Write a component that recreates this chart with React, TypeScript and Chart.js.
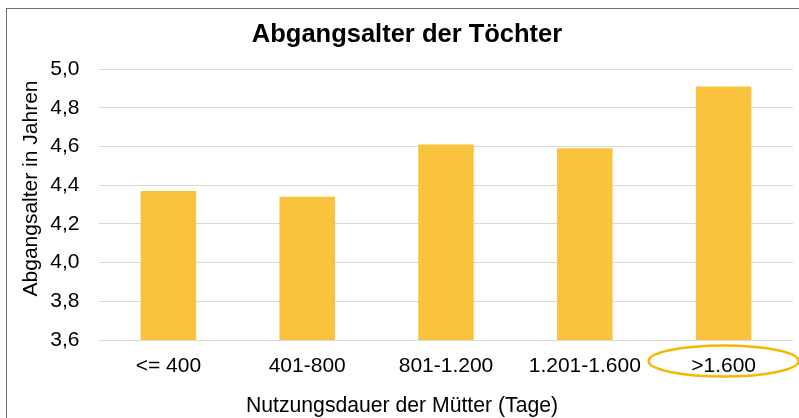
import React, { useEffect, useRef } from "react";
import { Chart, registerables } from "chart.js";

Chart.register(...registerables);

const categories = ["<= 400", "401-800", "801-1.200", "1.201-1.600", ">1.600"];
const values = [4.37, 4.34, 4.61, 4.59, 4.91];
const yMin = 3.6;
const yMax = 5.0;
const yStep = 0.2;
const chartTitle = "Abgangsalter der Töchter";
const xTitle = "Nutzungsdauer der Mütter (Tage)";
const yTitle = "Abgangsalter in Jahren";
const highlightIndex = 4;

const FONT = "'Liberation Sans', Arial, sans-serif";

const extrasPlugin = {
  id: "extras",
  afterDraw(chart: any) {
    const { ctx, chartArea, scales } = chart;
    // y-axis title
    ctx.save();
    ctx.translate(chartArea.left - 68, (chartArea.top + chartArea.bottom) / 2 - 16);
    ctx.rotate(-Math.PI / 2);
    ctx.fillStyle = "#000";
    ctx.font = `21px ${FONT}`;
    ctx.textAlign = "center";
    ctx.textBaseline = "middle";
    ctx.fillText(yTitle, 0, 0);
    ctx.restore();

    // x-axis title
    ctx.save();
    ctx.fillStyle = "#000";
    ctx.font = `21.2px ${FONT}`;
    ctx.textAlign = "center";
    ctx.textBaseline = "middle";
    ctx.fillText(xTitle, (chartArea.left + chartArea.right) / 2 - 44, chartArea.bottom + 66);
    ctx.restore();

    // highlight ellipse around last category label
    const cx = scales.x.getPixelForValue(highlightIndex);
    const cy = chartArea.bottom + 21;
    ctx.save();
    ctx.beginPath();
    ctx.ellipse(cx, cy, 75, 15.5, 0, 0, Math.PI * 2);
    ctx.strokeStyle = "#F4B800";
    ctx.lineWidth = 2.5;
    ctx.stroke();
    ctx.restore();
  },
};

export default function App() {
  const ref = useRef<HTMLCanvasElement>(null);
  useEffect(() => {
    if (!ref.current) return;
    const chart = new Chart(ref.current, {
      type: "bar",
      data: {
        labels: categories,
        datasets: [
          {
            data: values,
            backgroundColor: "#F9C33E",
            borderWidth: 0,
            categoryPercentage: 1,
            barPercentage: 0.4,
            yAxisID: "y",
          },
        ],
      },
      options: {
        responsive: false,
        animation: false,
        layout: { padding: { left: 0, right: 0, top: 0, bottom: 36 } },
        plugins: {
          legend: { display: false },
          tooltip: { enabled: false },
          title: {
            display: true,
            text: chartTitle,
            color: "#000",
            font: { family: FONT, size: 25.5, weight: "bold", lineHeight: 1.2 },
            padding: { top: 10.7, bottom: 18.7 },
          },
        },
        scales: {
          x: {
            grid: { display: false },
            border: { display: false },
            ticks: {
              color: "#000",
              font: { family: FONT, size: 21, lineHeight: 1.2 },
              padding: 5.4,
              maxRotation: 0,
              autoSkip: false,
            },
            afterFit(scale: any) {
              scale.height = 45;
            },
          },
          y: {
            min: yMin,
            max: yMax,
            grid: { color: "#D9D9D9", lineWidth: 1, drawTicks: false },
            border: { display: false },
            ticks: {
              stepSize: yStep,
              color: "#000",
              font: { family: FONT, size: 21, lineHeight: 1.2 },
              padding: 19.5,
              callback: (v: any) => Number(v).toFixed(1).replace(".", ","),
            },
            afterFit(scale: any) {
              scale.width = 92;
            },
          },
          y2: {
            position: "right",
            display: true,
            min: yMin,
            max: yMax,
            grid: { display: false },
            border: { display: false },
            ticks: { display: false },
            afterFit(scale: any) {
              scale.width = 14;
            },
          },
        },
      },
      plugins: [extrasPlugin],
    } as any);
    return () => chart.destroy();
  }, []);

  return (
    <div
      style={{
        position: "fixed",
        left: 0,
        top: 0,
        width: 799,
        height: 418,
        overflow: "hidden",
        background: "#fff",
      }}
    >
      <div
        style={{
          position: "absolute",
          left: 6,
          top: 8,
          width: 810,
          height: 425,
          border: "1px solid #6f6f6f",
          boxSizing: "border-box",
        }}
      >
        <canvas ref={ref} width={800} height={412} style={{ display: "block" }} />
      </div>
    </div>
  );
}
